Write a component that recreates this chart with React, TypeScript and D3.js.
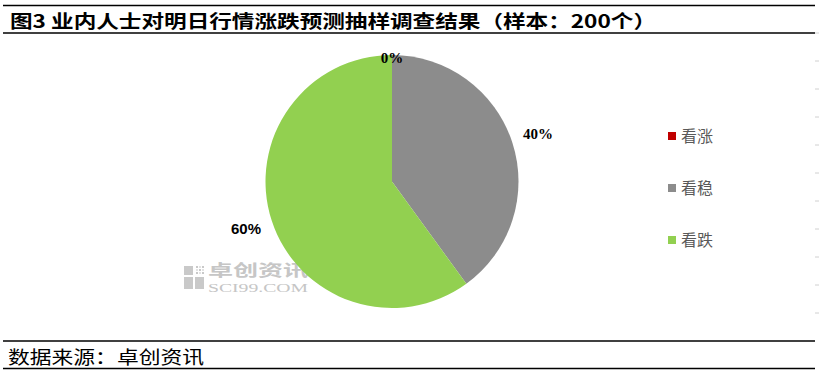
import React from "react";
import * as d3 from "d3";

const TITLE = "图3  业内人士对明日行情涨跌预测抽样调查结果（样本：200个）";
const SOURCE = "数据来源：卓创资讯";
const categories = ["看涨", "看稳", "看跌"];
const values = [0, 40, 60];
const colors = ["#c00000", "#8c8c8c", "#92d050"];

const W = 819;
const H = 377;

export default function App() {
  const cx = 392;
  const cy = 181.5;
  const r = 126.5;
  const total = d3.sum(values);
  const pie = d3
    .pie<number>()
    .sort(null)
    .value((d) => d)
    .startAngle(0)
    .endAngle(2 * Math.PI);
  const arcs = pie(values);
  const arcGen = d3.arc<d3.PieArcDatum<number>>().innerRadius(0).outerRadius(r);

  const legendY = d3.scalePoint<string>().domain(categories).range([136, 240]);

  const dashYs = d3.range(0, 11).map((i) => 33 + i * 28);

  return (
    <svg
      width={W}
      height={H}
      style={{ position: "absolute", left: 0, top: 0, background: "#fff" }}
      fontFamily="'Noto Sans CJK SC', sans-serif"
    >
      <rect x={0} y={0} width={W} height={H} fill="#fff" />
      {/* frame lines */}
      <line x1={3} x2={815} y1={5.5} y2={5.5} stroke="#000" strokeWidth={1.5} />
      <line x1={3} x2={815} y1={33} y2={33} stroke="#000" strokeWidth={1.5} />
      <line x1={3} x2={815} y1={341} y2={341} stroke="#000" strokeWidth={1.5} />
      <line x1={3} x2={815} y1={368.5} y2={368.5} stroke="#000" strokeWidth={1.5} />
      {dashYs.map((y, i) => (
        <line key={i} x1={815} x2={819} y1={y} y2={y} stroke="#d0d0d0" strokeWidth={1} />
      ))}
      <text
        x={10}
        y={28}
        fontSize={18}
        fontWeight="bold"
        fill="#000"
        textLength={646}
        lengthAdjust="spacingAndGlyphs"
      >
        {TITLE}
      </text>
      <text
        x={8}
        y={364}
        fontSize={18}
        fill="#000"
        textLength={196}
        lengthAdjust="spacingAndGlyphs"
      >
        {SOURCE}
      </text>

      {/* watermark */}
      <g opacity={0.9}>
        <rect x={184} y={266} width={9} height={9} fill="#c4c4c4" />
        <rect x={184} y={277} width={9} height={12} fill="#c4c4c4" />
        <rect x={195} y={277} width={9} height={12} fill="#c4c4c4" />
        {d3.range(0, 3).map((i) =>
          d3.range(0, 3).map((j) => (
            <rect
              key={`${i}-${j}`}
              x={196 + i * 3}
              y={266 + j * 3}
              width={2}
              height={2}
              fill={(i + j) % 2 === 0 ? "#c4c4c4" : "#e0e0e0"}
            />
          ))
        )}
        <text x={208} y={276} fontSize={16} fill="#c0c0c0" fontWeight="bold" textLength={100} lengthAdjust="spacingAndGlyphs">
          卓创资讯
        </text>
        <text x={208} y={292} fontSize={12} fill="#c0c0c0" fontFamily="'Liberation Serif', serif" textLength={100} lengthAdjust="spacingAndGlyphs">
          SCI99.COM
        </text>
      </g>

      {/* pie */}
      <g transform={`translate(${cx},${cy})`}>
        {arcs.map((a, i) => (
          <path key={i} d={arcGen(a) || ""} fill={colors[i]} />
        ))}
        {arcs.map((a, i) => {
          const mid = (a.startAngle + a.endAngle) / 2;
          const lr = a.value > 0 ? r + 27 : r - 3;
          const x = lr * Math.sin(mid);
          const y = -lr * Math.cos(mid);
          const pct = Math.round((a.value / total) * 100) + "%";
          return (
            <text
              key={i}
              x={x}
              y={y + 5}
              textAnchor="middle"
              fontSize={15}
              fontWeight="bold"
              fill="#000"
              fontFamily={i === 2 ? "'Liberation Sans', sans-serif" : "'Liberation Serif', serif"}
            >
              {pct}
            </text>
          );
        })}
      </g>

      {/* legend */}
      {categories.map((c, i) => {
        const y = legendY(c) as number;
        return (
          <g key={c}>
            <rect x={668} y={y - 4} width={8} height={8} fill={colors[i]} />
            <text x={681} y={y + 6} fontSize={16} fill="#595959">
              {c}
            </text>
          </g>
        );
      })}
    </svg>
  );
}
